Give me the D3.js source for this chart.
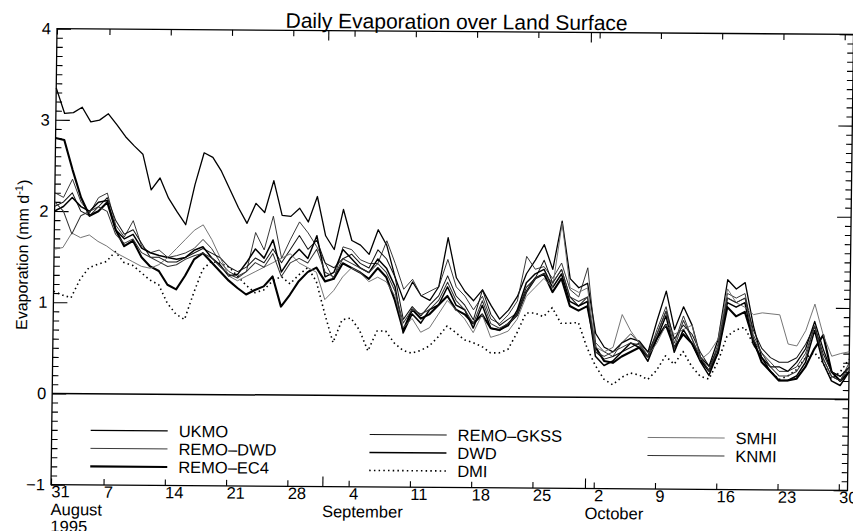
<!DOCTYPE html>
<html>
<head>
<meta charset="utf-8">
<script src="https://cdn.jsdelivr.net/npm/d3@7"></script>
<style>
  body { margin: 0; background: #fff; }
  svg text { font-family: "Liberation Sans", Arial, Helvetica, sans-serif; fill: #000; }
</style>
</head>
<body>
<svg id="chart" width="853" height="531"></svg>
<script>
// Daily evaporation over land, 1 Aug – 31 Oct 1995 (one value per day, index 0 = 1 Aug)
const ukmo = [
  3.35, 3.07, 3.08, 3.14, 2.98, 3.00, 3.07, 2.95, 2.82, 2.72,
  2.63, 2.24, 2.37, 2.15, 2.00, 1.86, 2.30, 2.65, 2.60, 2.45,
  2.25, 2.05, 1.88, 2.10, 2.00, 2.35, 1.97, 1.96, 2.05, 1.90,
  2.18, 1.75, 1.60, 2.04, 1.70, 1.65, 1.55, 1.82, 1.65, 1.30,
  1.05, 1.25, 1.10, 1.05, 1.20, 1.74, 1.30, 1.15, 1.05, 1.17,
  1.00, 0.85, 0.95, 1.10, 1.35, 1.50, 1.67, 1.40, 1.93, 1.30,
  1.20, 1.25, 0.70, 0.55, 0.50, 0.60, 0.65, 0.62, 0.50, 0.85,
  1.17, 0.75, 1.00, 0.80, 0.45, 0.35, 0.65, 1.30, 1.20, 1.27,
  0.80, 0.45, 0.35, 0.35, 0.30, 0.40, 0.55, 0.85, 0.55, 0.30,
  0.25, 0.35
];
const remoDwd = [
  2.20, 2.15, 2.35, 2.10, 1.98, 2.15, 2.20, 1.85, 1.72, 1.90,
  1.62, 1.55, 1.58, 1.50, 1.52, 1.55, 1.60, 1.70, 1.60, 1.45,
  1.35, 1.30, 1.35, 1.78, 1.59, 1.96, 1.50, 1.71, 1.90, 1.78,
  1.63, 1.45, 1.27, 1.63, 1.60, 1.49, 1.45, 1.45, 1.70, 1.45,
  1.17, 1.28, 1.10, 1.15, 1.20, 1.50, 1.20, 1.10, 0.95, 1.10,
  0.85, 0.80, 0.90, 1.05, 1.54, 1.40, 1.43, 1.30, 1.47, 1.18,
  1.10, 1.42, 0.60, 0.50, 0.45, 0.60, 0.70, 0.60, 0.45, 0.75,
  1.00, 0.60, 0.90, 0.65, 0.42, 0.30, 0.60, 1.15, 1.10, 1.15,
  0.70, 0.50, 0.40, 0.30, 0.30, 0.35, 0.50, 0.80, 0.45, 0.25,
  0.20, 0.40
];
const remoEc4 = [
  2.80, 2.78, 2.45, 2.15, 1.95, 2.00, 2.10, 1.80, 1.62, 1.68,
  1.50, 1.40, 1.35, 1.20, 1.15, 1.30, 1.48, 1.55, 1.45, 1.35,
  1.25, 1.17, 1.10, 1.15, 1.19, 1.30, 0.97, 1.10, 1.25, 1.35,
  1.40, 1.25, 1.28, 1.45, 1.40, 1.35, 1.28, 1.40, 1.30, 1.05,
  0.72, 0.95, 0.85, 0.90, 1.00, 1.10, 0.95, 0.90, 0.80, 0.90,
  0.75, 0.73, 0.80, 0.90, 1.15, 1.30, 1.35, 1.15, 1.30, 1.00,
  0.95, 1.00, 0.55, 0.40, 0.38, 0.45, 0.50, 0.55, 0.45, 0.65,
  0.80, 0.55, 0.70, 0.60, 0.42, 0.30, 0.50, 1.00, 0.90, 0.95,
  0.65, 0.40, 0.30, 0.20, 0.20, 0.22, 0.35, 0.55, 0.70, 0.30,
  0.20, 0.30
];
const remoGkss = [
  2.05, 2.10, 2.20, 2.00, 1.95, 2.05, 2.15, 1.90, 1.75, 1.80,
  1.65, 1.50, 1.50, 1.45, 1.45, 1.50, 1.55, 1.60, 1.55, 1.50,
  1.40, 1.35, 1.40, 1.50, 1.45, 1.60, 1.45, 1.60, 1.75, 1.60,
  1.70, 1.45, 1.40, 1.50, 1.55, 1.45, 1.40, 1.60, 1.50, 1.30,
  0.84, 0.98, 0.88, 1.00, 1.10, 1.32, 1.10, 1.00, 0.84, 1.17,
  0.90, 0.78, 0.85, 0.92, 1.20, 1.30, 1.50, 1.25, 1.40, 1.10,
  1.00, 1.10, 0.50, 0.42, 0.45, 0.50, 0.55, 0.60, 0.50, 0.70,
  0.95, 0.65, 0.80, 0.70, 0.50, 0.35, 0.55, 1.10, 1.05, 1.10,
  0.75, 0.55, 0.45, 0.40, 0.40, 0.45, 0.60, 0.80, 0.50, 0.30,
  0.25, 0.35
];
const dwd = [
  2.00, 2.05, 2.15, 2.05, 2.00, 2.10, 2.12, 1.80, 1.70, 1.75,
  1.60, 1.55, 1.52, 1.50, 1.48, 1.50, 1.58, 1.62, 1.50, 1.42,
  1.30, 1.32, 1.45, 1.60, 1.50, 1.70, 1.35, 1.50, 1.60, 1.50,
  1.75, 1.30, 1.35, 1.60, 1.50, 1.40, 1.35, 1.50, 1.40, 1.20,
  0.69, 0.90, 0.80, 0.95, 1.00, 1.20, 1.00, 0.95, 0.75, 1.00,
  0.75, 0.73, 0.78, 0.95, 1.25, 1.35, 1.40, 1.20, 1.35, 1.05,
  1.00, 1.05, 0.45, 0.35, 0.40, 0.50, 0.60, 0.55, 0.40, 0.65,
  0.90, 0.50, 0.75, 0.60, 0.40, 0.25, 0.50, 1.05, 1.00, 1.05,
  0.60, 0.45, 0.30, 0.20, 0.20, 0.25, 0.40, 0.75, 0.40, 0.20,
  0.15, 0.30
];
const dmi = [
  1.12, 1.08, 1.05, 1.25, 1.38, 1.42, 1.45, 1.56, 1.44, 1.41,
  1.33, 1.25, 1.20, 1.00, 0.88, 0.82, 1.11, 1.37, 1.46, 1.44,
  1.40, 1.30, 1.20, 1.12, 1.15, 1.25, 1.30, 1.22, 1.32, 1.40,
  1.25, 0.90, 0.58, 0.83, 0.85, 0.72, 0.49, 0.71, 0.71, 0.58,
  0.50, 0.47, 0.50, 0.55, 0.65, 0.77, 0.70, 0.62, 0.59, 0.55,
  0.48, 0.48, 0.52, 0.70, 0.92, 0.92, 0.88, 0.98, 0.81, 0.81,
  0.82, 0.55, 0.35, 0.20, 0.14, 0.22, 0.27, 0.25, 0.20, 0.30,
  0.46, 0.37, 0.51, 0.35, 0.24, 0.21, 0.40, 0.68, 0.75, 0.78,
  0.60, 0.45, 0.30, 0.21, 0.25, 0.32, 0.45, 0.51, 0.40, 0.22,
  0.30, 0.44
];
const smhi = [
  1.58, 1.60, 1.76, 1.71, 1.74, 1.67, 1.62, 1.55, 1.50, 1.45,
  1.40, 1.38, 1.42, 1.50, 1.60, 1.70, 1.80, 1.86, 1.70, 1.50,
  1.30, 1.25, 1.30, 1.35, 1.40, 1.45, 1.50, 1.55, 1.45, 1.40,
  1.35, 1.05, 1.15, 1.30, 1.40, 1.35, 1.25, 1.30, 1.25, 1.10,
  0.75, 0.85, 0.70, 0.75, 0.90, 1.05, 0.95, 0.85, 0.70, 0.90,
  0.65, 0.68, 0.72, 0.85, 1.10, 1.20, 1.30, 1.20, 1.91, 1.20,
  1.15, 1.20, 0.55, 0.50, 0.55, 0.91, 0.73, 0.60, 0.46, 0.60,
  0.80, 0.70, 0.75, 0.80, 0.42, 0.50, 0.65, 1.20, 1.05, 1.00,
  0.92, 0.94, 0.93, 0.92, 0.60, 0.58, 0.75, 1.04, 0.70, 0.47,
  0.50, 0.52
];
const knmi = [
  2.10, 2.00, 1.75, 1.95, 2.00, 2.05, 2.00, 1.75, 1.65, 1.70,
  1.55, 1.50, 1.45, 1.40, 1.42, 1.48, 1.52, 1.55, 1.50, 1.40,
  1.32, 1.28, 1.35, 1.45, 1.40, 1.55, 1.30, 1.45, 1.50, 1.45,
  1.60, 1.35, 1.30, 1.50, 1.45, 1.40, 1.35, 1.45, 1.35, 1.15,
  0.80, 0.95, 0.90, 0.95, 1.05, 1.25, 1.05, 0.95, 0.80, 1.05,
  0.80, 0.75, 0.80, 0.90, 1.15, 1.30, 1.35, 1.25, 1.40, 1.10,
  1.05, 1.10, 0.50, 0.45, 0.50, 0.55, 0.60, 0.58, 0.45, 0.70,
  0.95, 0.55, 0.85, 0.65, 0.45, 0.30, 0.55, 1.10, 1.05, 1.10,
  0.65, 0.50, 0.35, 0.25, 0.25, 0.30, 0.45, 0.80, 0.45, 0.25,
  0.20, 0.35
];

// Axis ticks: days counted from 1 Aug; weekly ticks, month starts as long ticks
const weekTickDays   = [0, 6, 13, 20, 27, 34, 41, 48, 55, 62, 69, 76, 83, 90];
const weekTickLabels = ["31", "7", "14", "21", "28", "4", "11", "18", "25", "2", "9", "16", "23", "30"];
const monthTickDays  = [31, 61];
const monthLabelDays = [0, 31, 61];
const monthLabels    = ["August", "September", "October"];
const yearLabel      = "1995";
const yMajorTicks    = [-1, 0, 1, 2, 3, 4];

const series = [
  { name: "UKMO",      values: ukmo,     stroke: "#000", width: 1.3, dash: null },
  { name: "REMO–DWD",  values: remoDwd,  stroke: "#222", width: 0.9, dash: null },
  { name: "REMO–EC4",  values: remoEc4,  stroke: "#000", width: 2.1, dash: null },
  { name: "REMO–GKSS", values: remoGkss, stroke: "#111", width: 1.0, dash: null },
  { name: "DWD",       values: dwd,      stroke: "#000", width: 1.5, dash: null },
  { name: "DMI",       values: dmi,      stroke: "#000", width: 1.6, dash: "1.5 3.2" },
  { name: "SMHI",      values: smhi,     stroke: "#666", width: 0.9, dash: null },
  { name: "KNMI",      values: knmi,     stroke: "#333", width: 1.0, dash: null }
];

// Legend layout: three columns under the zero line
const legendSlots = [
  [93, 433], [93, 451], [93, 469],
  [372, 435], [372, 453], [372, 471],
  [650, 436], [650, 454]
];

const L = 54, R = 850.5, T = 31.5, B = 487.5;
const x = d3.scaleLinear().domain([0, 91]).range([L, R]);
const y = d3.scaleLinear().domain([-1, 4]).range([B, T]);

const svg = d3.select("#chart");
// slight skew of the whole sheet
const g = svg.append("g").attr("transform", "matrix(1,0.00733,-0.0132,1,3.43,-3.31)");

// title
g.append("text").attr("x", 453.5).attr("y", 29).attr("text-anchor", "middle")
  .attr("font-size", 21).text("Daily Evaporation over Land Surface");

// y-axis title
g.append("text").attr("transform", "translate(28,258) rotate(-90)")
  .attr("text-anchor", "middle").attr("font-size", 16)
  .html('Evaporation (mm d<tspan dy="-6" font-size="11">-1</tspan><tspan dy="6">)</tspan>');

// minor / major ticks, left and right
const yMinor = d3.range(-10, 41).map(k => k / 10).filter(v => Math.abs(v - Math.round(v)) > 1e-6);
function styleAxis(sel) {
  sel.select(".domain").remove();
  sel.selectAll(".tick line").attr("stroke", "#000").attr("stroke-width", 1.1);
}
g.append("g").attr("transform", `translate(${L},0)`)
  .call(d3.axisLeft(y).tickValues(yMinor).tickSize(-6).tickFormat(""))
  .call(styleAxis);
g.append("g").attr("transform", `translate(${L},0)`)
  .call(d3.axisLeft(y).tickValues(yMajorTicks).tickSize(-14).tickPadding(6).tickFormat(d3.format("d")))
  .call(styleAxis)
  .call(s => s.selectAll("text").attr("font-size", 16.5).attr("fill", "#000").attr("font-family", null));
g.append("g").attr("transform", `translate(${R},0)`)
  .call(d3.axisRight(y).tickValues(yMinor).tickSize(-6).tickFormat(""))
  .call(styleAxis);
g.append("g").attr("transform", `translate(${R},0)`)
  .call(d3.axisRight(y).tickValues(yMajorTicks).tickSize(-14).tickFormat(""))
  .call(styleAxis);

// x ticks bottom and top
g.append("g").attr("transform", `translate(0,${B})`)
  .call(d3.axisBottom(x).tickValues(weekTickDays).tickSize(-6).tickPadding(1)
    .tickFormat((d, i) => weekTickLabels[i]))
  .call(styleAxis)
  .call(s => s.selectAll("text").attr("font-size", 16.5).attr("text-anchor", "start")
    .attr("fill", "#000").attr("font-family", null));
g.append("g").attr("transform", `translate(0,${B})`)
  .call(d3.axisBottom(x).tickValues(monthTickDays).tickSize(-10).tickFormat(""))
  .call(styleAxis);
g.append("g").attr("transform", `translate(0,${T})`)
  .call(d3.axisTop(x).tickValues(weekTickDays).tickSize(-6).tickFormat(""))
  .call(styleAxis);
g.append("g").attr("transform", `translate(0,${T})`)
  .call(d3.axisTop(x).tickValues(monthTickDays).tickSize(-10).tickFormat(""))
  .call(styleAxis);

// month names and year
g.append("g").selectAll("text").data(monthLabels).join("text")
  .attr("x", (d, i) => x(monthLabelDays[i])).attr("y", 518)
  .attr("font-size", 16.5).text(d => d);
g.append("text").attr("x", x(monthLabelDays[0])).attr("y", 535)
  .attr("font-size", 16.5).text(yearLabel);

// frame and zero line
g.append("rect").attr("x", L).attr("y", T).attr("width", R - L).attr("height", B - T)
  .attr("fill", "none").attr("stroke", "#000").attr("stroke-width", 1.3);
g.append("line").attr("x1", L).attr("x2", R).attr("y1", y(0)).attr("y2", y(0))
  .attr("stroke", "#000").attr("stroke-width", 1.5);

// series
const line = d3.line().x((d, i) => x(i)).y(d => y(d));
g.append("g").selectAll("path").data(series).join("path")
  .attr("d", d => line(d.values))
  .attr("fill", "none")
  .attr("stroke", d => d.stroke)
  .attr("stroke-width", d => d.width)
  .attr("stroke-dasharray", d => d.dash)
  .attr("stroke-linejoin", "round");

// legend
const leg = g.append("g").selectAll("g").data(series).join("g")
  .attr("transform", (d, i) => `translate(${legendSlots[i][0]},${legendSlots[i][1]})`);
leg.append("line").attr("x1", 0).attr("x2", 77)
  .attr("stroke", d => d.stroke).attr("stroke-width", d => d.width)
  .attr("stroke-dasharray", d => d.dash);
leg.append("text").attr("x", 88).attr("dy", "0.36em").attr("font-size", 16.5)
  .attr("fill", d => d.name === "SMHI" || d.name === "KNMI" ? "#444" : "#000")
  .text(d => d.name);
</script>
</body>
</html>
